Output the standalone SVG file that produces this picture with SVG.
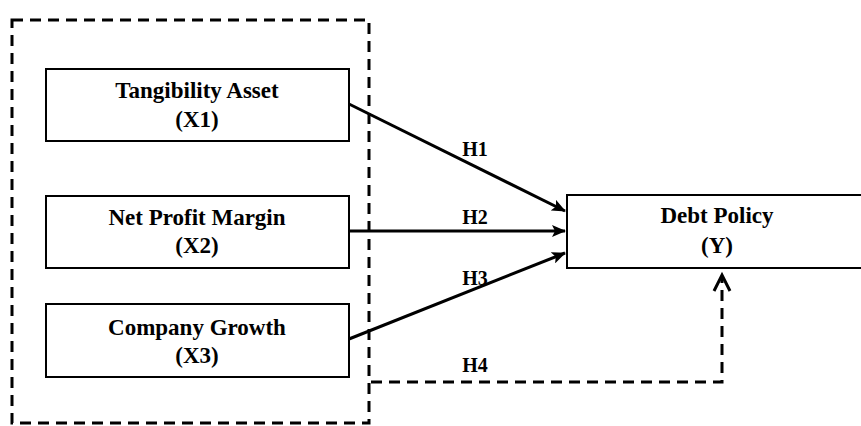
<svg xmlns="http://www.w3.org/2000/svg" width="861" height="426" viewBox="0 0 861 426">
<style>
.box{fill:#fff;stroke:#000;stroke-width:2}
.t{font-family:"Liberation Serif","Times New Roman",serif;font-weight:bold;font-size:23px;text-anchor:middle;fill:#000}
.h{font-family:"Liberation Serif","Times New Roman",serif;font-weight:bold;font-size:20px;text-anchor:middle;fill:#000}
.ln{stroke:#000;stroke-width:3;fill:none}
.dash{stroke:#000;stroke-width:3;fill:none;stroke-dasharray:11 7}
</style>
<defs>
<marker id="ah" markerWidth="14" markerHeight="12" refX="13" refY="6" orient="auto" markerUnits="userSpaceOnUse">
<path d="M0,0 L14,6 L0,12 L3,6 Z" fill="#000"/>
</marker>
</defs>
<g id="group-frame">
<rect x="12" y="20" width="357" height="403" class="dash"/>
</g>
<g id="node-x1">
<rect class="box" x="46" y="69" width="303" height="72"/>
<text class="t" x="197" y="98">Tangibility Asset</text>
<text class="t" x="197" y="127">(X1)</text>
</g>
<g id="node-x2">
<rect class="box" x="46" y="196" width="303" height="72"/>
<text class="t" x="197" y="225">Net Profit Margin</text>
<text class="t" x="197" y="253">(X2)</text>
</g>
<g id="node-x3">
<rect class="box" x="46" y="304" width="303" height="73"/>
<text class="t" x="197" y="335">Company Growth</text>
<text class="t" x="197" y="363">(X3)</text>
</g>
<g id="node-y">
<rect class="box" x="567" y="195" width="300" height="73"/>
<text class="t" x="717" y="223">Debt Policy</text>
<text class="t" x="717" y="253">(Y)</text>
</g>
<g id="connectors">
<line class="ln" x1="349" y1="104" x2="565" y2="211" marker-end="url(#ah)"/>
<line class="ln" x1="349" y1="231" x2="565" y2="231" marker-end="url(#ah)"/>
<line class="ln" x1="349" y1="339" x2="565" y2="253" marker-end="url(#ah)"/>
<path class="dash" d="M371,382 H722 V276"/>
<path d="M714,291 L722,275 L730,291" class="ln" stroke-width="3"/>
<text class="h" x="475" y="156">H1</text>
<text class="h" x="475" y="224">H2</text>
<text class="h" x="475" y="285">H3</text>
<text class="h" x="475" y="372">H4</text>
</g>
</svg>
